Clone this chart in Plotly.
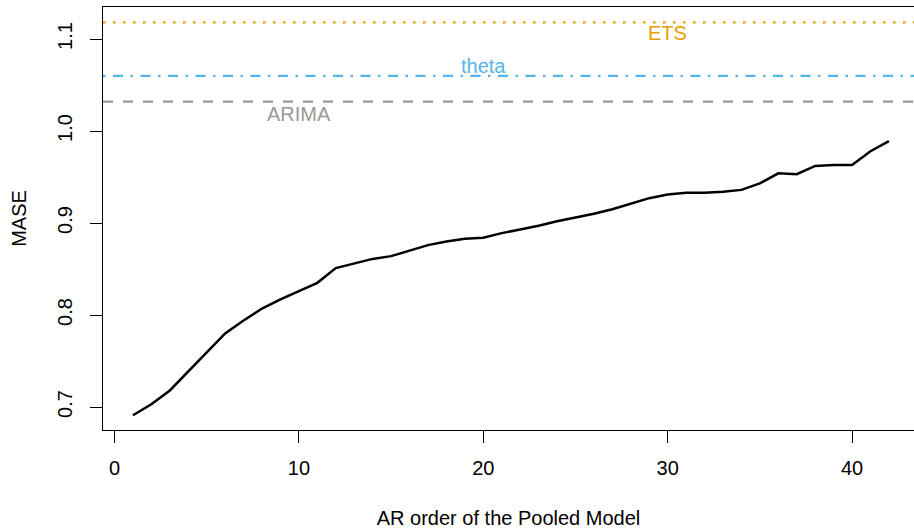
import plotly.graph_objects as go

# Data
ar_order = list(range(1, 43))
mase_pooled = [0.691, 0.703, 0.718, 0.739, 0.759, 0.780, 0.794, 0.807, 0.817, 0.826,
               0.835, 0.851, 0.856, 0.861, 0.864, 0.870, 0.876, 0.880, 0.883, 0.884,
               0.889, 0.893, 0.897, 0.902, 0.906, 0.910, 0.915, 0.921, 0.927, 0.931,
               0.933, 0.933, 0.934, 0.936, 0.943, 0.954, 0.953, 0.962, 0.963, 0.963,
               0.978, 0.989]

benchmark_names = ["ETS", "theta", "ARIMA"]
benchmark_values = [1.118, 1.060, 1.032]
benchmark_colors = ["#E69F00", "#56B4E9", "#999999"]
benchmark_dash = ["2.5px,7.5px", "2.5px,7.5px,10px,7.5px", "10px,10px"]
label_x = [30, 20, 10]
label_y = [1.1065, 1.0710, 1.0182]

x_ticks = [0, 10, 20, 30, 40]
y_ticks = [0.7, 0.8, 0.9, 1.0, 1.1]
y_tick_text = ["0.7", "0.8", "0.9", "1.0", "1.1"]

x_range = [-0.624, 43.36]
y_range = [0.675, 1.1348]

FONT = "Liberation Sans, Arial, Helvetica, sans-serif"

fig = go.Figure()

for name, val, col, dash in zip(benchmark_names, benchmark_values, benchmark_colors, benchmark_dash):
    fig.add_trace(go.Scatter(
        x=x_range, y=[val, val], mode="lines",
        line=dict(color=col, width=2.2, dash=dash),
        hoverinfo="skip", showlegend=False, name=name,
    ))

fig.add_trace(go.Scatter(
    x=ar_order, y=mase_pooled, mode="lines",
    line=dict(color="black", width=2.5),
    showlegend=False, name="Pooled AR",
))

for name, lx, ly, col in zip(benchmark_names, label_x, label_y, benchmark_colors):
    fig.add_annotation(x=lx, y=ly, xref="x", yref="y", text=name, showarrow=False,
                       font=dict(family=FONT, size=20, color=col),
                       xanchor="center", yanchor="middle")

fig.update_layout(
    width=914, height=529, autosize=False,
    margin=dict(l=103, r=0, t=7, b=99),
    paper_bgcolor="white", plot_bgcolor="white",
    font=dict(family=FONT, size=20, color="black"),
    showlegend=False,
)

fig.update_xaxes(
    range=x_range, tickvals=x_ticks, ticks="outside", ticklen=12, tickwidth=1,
    tickcolor="black", showline=True, linecolor="black", linewidth=1, mirror=True,
    showgrid=False, zeroline=False, ticklabelstandoff=8, automargin=False,
    tickfont=dict(family=FONT, size=20, color="black"),
    title=dict(text="AR order of the Pooled Model", standoff=33,
               font=dict(family=FONT, size=20, color="black")),
)
fig.update_yaxes(
    range=y_range, tickvals=y_ticks, ticktext=y_tick_text, ticks="outside", ticklen=12,
    tickwidth=1, tickcolor="black", showline=True, linecolor="black", linewidth=1,
    mirror=False, showgrid=False, zeroline=False, tickangle=-90, ticklabelstandoff=10,
    automargin=False,
    tickfont=dict(family=FONT, size=20, color="black"),
    title=dict(text="MASE", standoff=22, font=dict(family=FONT, size=20, color="black")),
)

fig.write_html("out.html", config={"displayModeBar": False},
               post_script="document.body.style.margin='0';")
